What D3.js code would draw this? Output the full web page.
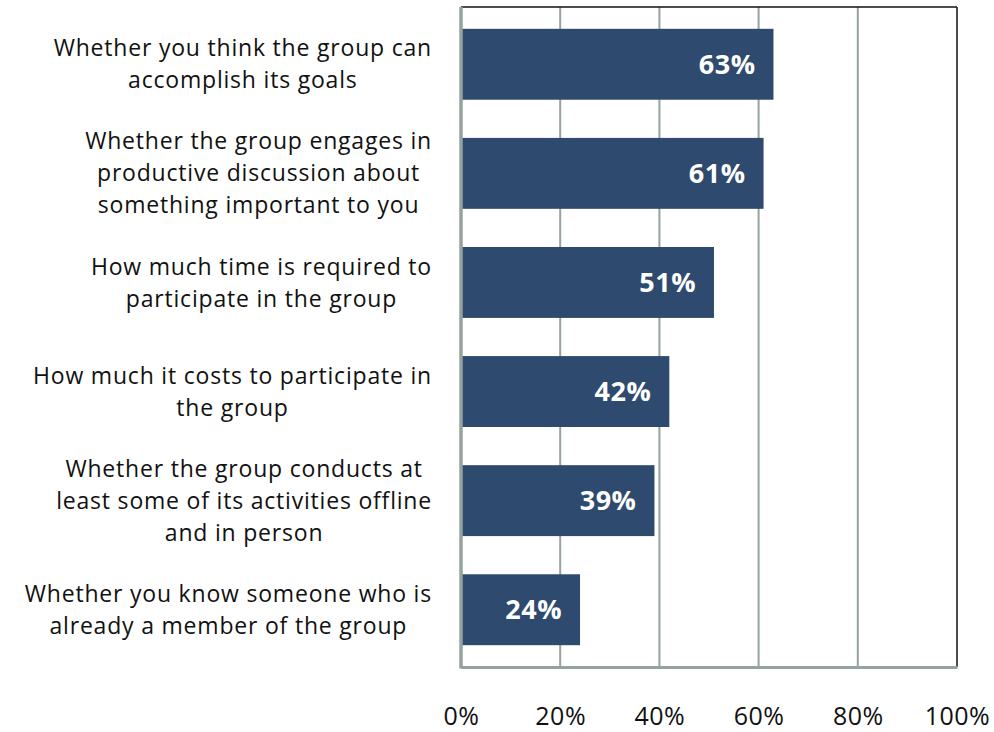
<!DOCTYPE html>
<html>
<head>
<meta charset="utf-8">
<script src="https://cdn.jsdelivr.net/npm/d3@7"></script>
<style>
  body { margin: 0; background: #fff; }
  svg { font-family: "Open Sans", Lato, sans-serif; }
</style>
</head>
<body>
<div id="chart"></div>
<script>
// Survey factors, top to bottom
const categories = [
    ['Whether you think the group can', 'accomplish its goals'],
    ['Whether the group engages in', 'productive discussion about', 'something important to you'],
    ['How much time is required to', 'participate in the group'],
    ['How much it costs to participate in', 'the group'],
    ['Whether the group conducts at', 'least some of its activities offline', 'and in person'],
    ['Whether you know someone who is', 'already a member of the group']
];
const values = [63, 61, 51, 42, 39, 24];
const ticks = [0, 20, 40, 60, 80, 100];

const W = 994, H = 732;
const plotLeft = 461, plotRight = 957, plotTop = 7, plotBottom = 667;

const svg = d3.select('#chart').append('svg')
    .attr('width', W)
    .attr('height', H);

const x = d3.scaleLinear().domain([0, 100]).range([plotLeft, plotRight]);
const y = d3.scaleBand()
    .domain(d3.range(categories.length))
    .range([plotTop, plotBottom])
    .paddingInner(0.35)
    .paddingOuter(0.2);

// Gridlines
svg.append('g')
    .selectAll('line')
    .data(ticks.slice(1, -1))
    .enter().append('line')
    .attr('x1', d => x(d)).attr('x2', d => x(d))
    .attr('y1', plotTop).attr('y2', plotBottom)
    .attr('stroke', '#95a39f')
    .attr('stroke-width', 2);

// Frame: top and right in black
svg.append('line')
    .attr('x1', plotLeft).attr('x2', plotRight)
    .attr('y1', plotTop).attr('y2', plotTop)
    .attr('stroke', '#111').attr('stroke-width', 1.5);
svg.append('line')
    .attr('x1', plotRight).attr('x2', plotRight)
    .attr('y1', plotTop).attr('y2', plotBottom)
    .attr('stroke', '#111').attr('stroke-width', 1.5);

// Bars
svg.append('g')
    .selectAll('rect')
    .data(values)
    .enter().append('rect')
    .attr('x', x(0))
    .attr('y', (d, i) => y(i))
    .attr('width', d => x(d) - x(0))
    .attr('height', y.bandwidth())
    .attr('fill', '#2e4a6e');

// Value labels
svg.append('g')
    .selectAll('text')
    .data(values)
    .enter().append('text')
    .attr('x', d => x(d) - 18)
    .attr('y', (d, i) => y(i) + y.bandwidth() / 2)
    .attr('dy', '0.36em')
    .attr('text-anchor', 'end')
    .style('font-size', '27px')
    .style('letter-spacing', '0.5px')
    .style('font-weight', 'bold')
    .style('fill', '#fff')
    .text(d => d + '%');

// Axes (left and bottom in gray)
const xAxis = svg.append('g')
    .attr('transform', `translate(0,${plotBottom})`)
    .call(d3.axisBottom(x).tickValues(ticks).tickFormat(d => d + '%').tickSize(0).tickPadding(40));
xAxis.select('.domain').attr('stroke', '#95a39f').attr('stroke-width', 3);
xAxis.selectAll('text')
    .style('font-size', '25px')
    .style('letter-spacing', '0.5px')
    .style('font-family', '"Open Sans", Lato, sans-serif')
    .style('fill', '#111');

svg.append('line')
    .attr('x1', plotLeft).attr('x2', plotLeft)
    .attr('y1', plotTop).attr('y2', plotBottom + 1.5)
    .attr('stroke', '#95a39f').attr('stroke-width', 3.5);

// Category labels, centred lines, right edge at 432
const labelRight = 432;
const lineH = 32;
categories.forEach((lines, i) => {
    const cy = y(i) + y.bandwidth() / 2;
    const t = svg.append('text')
        .attr('text-anchor', 'middle')
        .style('font-size', '23px')
        .style('letter-spacing', '0.8px')
        .style('fill', '#111');
    const spans = lines.map((line, k) => t.append('tspan')
        .attr('y', cy + (k - (lines.length - 1) / 2) * lineH)
        .attr('dy', '0.35em')
        .text(line));
    const maxW = d3.max(spans, s => s.node().getComputedTextLength());
    spans.forEach(s => s.attr('x', labelRight - maxW / 2));
});
</script>
</body>
</html>
